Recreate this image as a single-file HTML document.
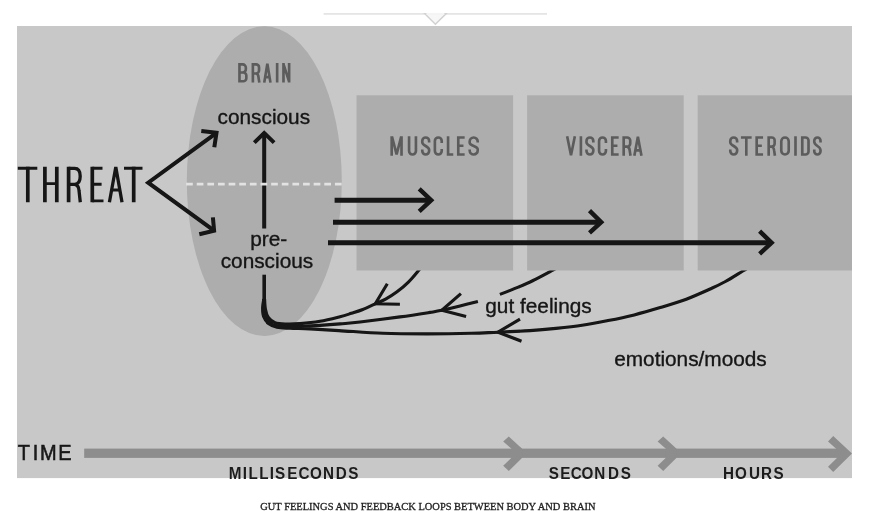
<!DOCTYPE html>
<html>
<head>
<meta charset="utf-8">
<title>Gut feelings and feedback loops between body and brain</title>
<style>
  html, body { margin: 0; padding: 0; background: #ffffff; }
  body { width: 883px; height: 526px; overflow: hidden; position: relative;
         font-family: "Liberation Sans", sans-serif; }
  svg { position: absolute; left: 0; top: 0; display: block; filter: grayscale(1); }
  text { font-family: "Liberation Sans", sans-serif; }
  .lbl  { fill: #141414; stroke: #141414; stroke-width: 0.35px; font-size: 20.8px; }
  .tl   { fill: #1c1c1c; font-weight: bold; font-size: 16.4px; }
  .cap  { font-family: "Liberation Serif", serif; fill: #1e1e1e; stroke: #1e1e1e; stroke-width: 0.3px; font-size: 10.4px; }
</style>
</head>
<body>
<svg width="883" height="526" viewBox="0 0 883 526">
  <!-- top divider with notch -->
  <rect x="323.6" y="13" width="223.4" height="1.8" fill="#e5e5e5"/>
  <path d="M424.6 13.6 L435.4 24.3 L446.2 13.6 Z" fill="#f7f7f7" stroke="#d2d2d2" stroke-width="1.4" stroke-linejoin="miter"/>
  <rect x="426.4" y="12.9" width="18" height="1.9" fill="#f5f5f5"/>

  <defs><filter id="soft" x="-2%" y="-2%" width="104%" height="104%"><feGaussianBlur stdDeviation="0.45"/></filter></defs>
  <g filter="url(#soft)">
  <!-- figure background -->
  <rect x="17" y="26" width="835" height="452.1" fill="#c8c8c8"/>

  <!-- brain ellipse + boxes -->
  <ellipse cx="264.3" cy="181.1" rx="77.5" ry="154.9" fill="#adadad"/>
  <!-- feedback curves (drawn beneath the boxes) -->
  <g fill="none" stroke="#141414" stroke-width="3.1" stroke-linecap="butt" stroke-linejoin="miter">
    <path d="M420.6 268.0 C420.2 268.5 420.1 268.6 418.1 271.0 C416.1 273.4 411.9 278.6 408.4 282.1 C404.9 285.6 400.8 289.0 397.0 291.8 C393.2 294.6 389.2 297.2 385.6 299.2 C382.0 301.2 379.1 302.1 375.3 303.8 C371.5 305.5 366.8 307.9 362.8 309.5 C358.8 311.1 355.2 312.1 351.4 313.3 C347.6 314.5 345.2 315.4 340.0 316.7 C334.8 318.0 326.7 320.1 320.0 321.3 C313.3 322.5 305.7 323.2 300.0 323.6 C294.3 324.1 290.2 324.2 286.0 324.0 C281.8 323.8 277.9 323.7 275.0 322.6 C272.1 321.5 269.9 319.8 268.3 317.5 C266.7 315.2 266.0 312.1 265.4 309.0 C264.8 305.9 264.7 300.7 264.6 299.0"/>
    <path d="M387.3 283.8 L375.3 303.8 L399.9 304.3"/>
    <path d="M556.6 268.0 C555.7 268.5 555.1 268.9 551.2 271.0 C547.3 273.1 538.6 277.8 533.1 280.5 C527.6 283.2 523.8 284.8 518.3 287.1 C512.8 289.4 503.0 293.2 499.9 294.4"/>
    <path d="M477.9 301.5 C474.9 302.2 466.0 304.5 460.0 306.0 C454.0 307.5 446.8 309.2 441.8 310.3 C436.8 311.4 437.0 311.3 430.0 312.4 C423.0 313.5 411.7 315.3 400.0 316.9 C388.3 318.5 370.0 320.8 360.0 322.0 C350.0 323.2 346.7 323.3 340.0 323.9 C333.3 324.5 326.7 325.0 320.0 325.4 C313.3 325.8 305.8 326.1 300.0 326.3 C294.2 326.5 289.5 326.6 285.0 326.3 C280.5 326.0 276.1 325.8 273.0 324.6 C269.9 323.4 267.8 321.6 266.3 319.0 C264.8 316.4 264.4 312.3 264.0 309.0 C263.6 305.7 264.2 300.7 264.2 299.0"/>
    <path d="M460.9 293.7 L441.8 310.3 L466.1 316.5"/>
    <path d="M747.6 268.0 C746.8 268.5 746.5 268.8 742.8 271.0 C739.1 273.2 730.5 278.7 725.4 281.5 C720.3 284.3 718.8 285.1 712.3 288.0 C705.8 290.9 695.0 295.9 686.3 299.2 C677.6 302.5 668.9 305.0 660.2 307.6 C651.5 310.2 642.9 312.7 634.2 314.9 C625.5 317.1 616.8 318.9 608.1 320.6 C599.4 322.3 590.8 324.0 582.1 325.3 C573.4 326.6 564.7 327.5 556.0 328.4 C547.3 329.3 539.7 330.0 530.0 330.6 C520.3 331.2 507.7 331.8 497.9 332.2 C488.1 332.6 483.2 333.0 471.4 333.3 C459.6 333.6 441.9 333.9 427.2 333.9 C412.5 333.9 397.7 333.9 383.0 333.3 C368.3 332.8 351.1 331.3 338.9 330.6 C326.7 329.9 318.1 329.3 310.0 328.9 C301.9 328.5 295.5 328.6 290.0 328.3 C284.5 328.0 280.6 328.0 277.0 327.2 C273.4 326.4 270.7 325.4 268.5 323.6 C266.3 321.8 264.6 319.1 263.6 316.5 C262.6 313.9 262.6 310.9 262.6 308.0 C262.6 305.1 263.6 300.5 263.8 299.0"/>
    <path d="M520 319.1 L497.9 332.2 L521.5 341.2"/>
  </g>
  <rect x="356.5" y="95.3" width="156.6" height="175.2" fill="#adadad"/>
  <rect x="527.1" y="95.3" width="156.6" height="175.2" fill="#adadad"/>
  <rect x="697.7" y="95.3" width="154.3" height="175.2" fill="#adadad"/>

  <!-- condensed labels -->
  <g fill="none" stroke="#5c5c5c" stroke-width="2.65" stroke-linejoin="miter" stroke-miterlimit="2" stroke-linecap="butt">
    <path d="M239.47 82.6V63.1M239.47 64.42H242.74A3.08 3.08 0 0 1 245.83 67.51V69.37A3.08 3.08 0 0 1 242.74 72.45H239.47M242.74 72.45A3.08 3.08 0 0 1 246.33 75.53V78.19A3.08 3.08 0 0 1 243.24 81.28H239.47M252.87 82.6V63.1M252.87 64.42H256.12A2.9 2.9 0 0 1 259.02 67.33V70.55A2.9 2.9 0 0 1 256.12 73.45H252.87M256.12 73.45Q258.42 74.05 258.52 77.35L259.32 82.6M264.24 82.6L267.35 63.6L270.46 82.6M265.11 77.14H269.59M277.15 63.1V82.6M283.48 82.6V63.1M289.12 82.6V63.1M283.48 64.1L289.12 81.6"/><!-- BRAIN -->
    <path d="M391.68 155.8V136.2M401.52 155.8V136.2M391.98 136.7L396.6 154.3L401.22 136.7M409.07 136.2V151.05A3.43 3.43 0 0 0 415.93 151.05V136.2M429.12 142.49V140.95A3.42 3.42 0 0 0 422.28 140.95V142.15C422.28 146 429.12 146 429.12 149.85V151.05A3.42 3.42 0 0 1 422.28 151.05V149.51M441.72 142.99V140.95A3.42 3.42 0 0 0 434.88 140.95V151.05A3.42 3.42 0 0 0 441.72 151.05V149.01M448.07 136.2V154.47H453.25M464.65 137.53H458.28V154.47H464.65M458.28 145.7H463.45M477.72 142.49V141.55A4.02 4.02 0 0 0 469.68 141.55V142.75C469.68 146 477.72 146 477.72 149.25V150.45A4.02 4.02 0 0 1 469.68 150.45V149.51"/><!-- MUSCLES -->
    <path d="M567.14 136.2L571 155.3L574.86 136.2M580.9 136.2V155.8M593.32 142.49V140.95A3.42 3.42 0 0 0 586.48 140.95V142.15C586.48 146 593.32 146 593.32 149.85V151.05A3.42 3.42 0 0 1 586.48 151.05V149.51M605.92 142.99V140.95A3.42 3.42 0 0 0 599.08 140.95V151.05A3.42 3.42 0 0 0 605.92 151.05V149.01M618.65 137.53H612.28V154.47H618.65M612.28 145.7H617.45M623.68 155.8V136.2M623.68 137.53H627.14A3.08 3.08 0 0 1 630.23 140.61V143.52A3.08 3.08 0 0 1 627.14 146.6H623.68M627.14 146.6Q629.62 147.2 629.73 150.68L630.52 155.8M634.34 155.8L637.9 136.7L641.46 155.8M635.34 150.31H640.46"/><!-- VISCERA -->
    <path d="M737.12 142.49V140.95A3.42 3.42 0 0 0 730.28 140.95V142.15C730.28 146 737.12 146 737.12 149.85V151.05A3.42 3.42 0 0 1 730.28 151.05V149.51M740.95 137.53H751.65M746.3 137.53V155.8M763.05 137.53H756.68V154.47H763.05M756.68 145.7H761.85M768.68 155.8V136.2M768.68 137.53H771.81A2.81 2.81 0 0 1 774.62 140.34V143.79A2.81 2.81 0 0 1 771.81 146.6H768.68M771.81 146.6Q774.02 147.2 774.12 150.41L774.92 155.8M781.28 141.25A3.72 3.72 0 0 1 788.72 141.25V150.75A3.72 3.72 0 0 1 781.28 150.75ZM795.5 136.2V155.8M802.28 155.8V136.2M802.28 137.53H805.56A2.97 2.97 0 0 1 808.52 140.49V151.51A2.97 2.97 0 0 1 805.56 154.47H802.28M820.52 142.49V140.65A3.12 3.12 0 0 0 814.28 140.65V141.85C814.28 146 820.52 146 820.52 150.15V151.35A3.12 3.12 0 0 1 814.28 151.35V149.51"/><!-- STEROIDS -->
  </g>

  <!-- THREAT drawn as strokes -->
  <g fill="none" stroke="#161616" stroke-linecap="butt" stroke-linejoin="miter">
    <g stroke-width="3.7">
      <path d="M27.8 166.8 V202.3 M44.9 166.8 V202.3 M56.8 166.8 V202.3 M68.6 166.8 V202.3 M92.3 166.8 V202.3 M133.7 166.8 V202.3"/>
    </g>
    <g stroke-width="2.9">
      <path d="M17.8 168.25 H37.3 M44.9 183.6 H56.8 M92.3 168.25 H102.5 M92.3 184.3 H101.6 M92.3 200.85 H103.5 M124 168.25 H142.5 M111.4 190 H120"/>
    </g>
    <g stroke-width="3.3">
      <path d="M68.6 168.3 H74.6 Q80.2 168.3 80.2 176.3 Q80.2 184.3 74.6 184.3 H68.6 M74.6 184.3 Q78.8 185 79 190.5 L80.3 202.3"/>
      <path d="M109.4 202.3 L115.8 167 L122 202.3" stroke-linejoin="bevel"/>
    </g>
  </g>

  <!-- THREAT arrows -->
  <g fill="none" stroke="#141414" stroke-width="4" stroke-linejoin="miter" stroke-linecap="butt">
    <path d="M216.5 132.8 L148.2 182.7 L214.1 230.6"/>
    <path d="M201.3 131.1 L216.5 132.8 L214.3 147.2"/>
    <path d="M212.9 217.4 L214.1 230.6 L199.3 234.2"/>
  </g>

  <!-- vertical arrow in brain -->
  <g fill="none" stroke="#141414" stroke-width="4">
    <path d="M264.2 134 V228.5"/>
    <path d="M254.3 142.6 L264.2 133 L274.1 142.6" stroke-linejoin="miter"/>
    <path d="M264.2 274.7 V300.5" stroke-width="3.6"/>
  </g>

  <!-- dashed divider in brain -->
  <line x1="186.1" y1="184.2" x2="342" y2="184.2" stroke="#e2e2e2" stroke-width="2.8" stroke-dasharray="6.7 3.93"/>

  <!-- horizontal arrows -->
  <g fill="none" stroke="#141414" stroke-width="4.9" stroke-linejoin="miter">
    <path d="M334.6 200.2 H431"/>
    <path d="M419.2 188.9 L431.2 200.2 L419.2 211.4" stroke-width="4.4"/>
    <path d="M333 222.2 H601"/>
    <path d="M589.5 210.6 L601.2 222.2 L589.5 232.8" stroke-width="4.4"/>
    <path d="M328 242.8 H771.5"/>
    <path d="M759.6 231.2 L771.6 242.8 L759.6 253.9" stroke-width="4.4"/>
  </g>

  <!-- text labels -->
  <text class="lbl" x="217.6" y="124">conscious</text>
  <text class="lbl" x="250.2" y="245.6">pre-</text>
  <text class="lbl" x="220.7" y="268.4">conscious</text>
  <text class="lbl" x="485.3" y="313">gut feelings</text>
  <text class="lbl" x="614.2" y="366">emotions/moods</text>

  <!-- timeline -->
  <text transform="scale(0.90 1)" y="459.9" x="19.6 36.4 44.5 64.8" fill="#1a1a1a" stroke="#1a1a1a" stroke-width="0.6" font-size="22.2">TIME</text>
  <g fill="#8d8d8d">
    <rect x="84.2" y="448.6" width="760" height="9.3"/>
    <path d="M508.8 436.4 L522.2 448.8 V457.7 L508.8 471 L503.2 465.8 L511.5 457.7 V448.8 L503.2 441.6 Z"/>
    <path d="M663.2 436.4 L676.6 448.8 V457.7 L663.2 471 L657.6 465.8 L665.9 457.7 V448.8 L657.6 441.6 Z"/>
    <path d="M833.2 436 L852 453.6 L833.2 472.1 L828 466.8 L841.5 453.6 L828 441.6 Z"/>
  </g>
  <text class="tl" transform="scale(0.93 1)" y="479.4" x="246.0 260.9 267.3 278.7 290.0 295.7 309.0 321.0 333.3 347.4 361.1 374.5">MILLISECONDS</text>
  <text class="tl" transform="scale(0.93 1)" y="479.4" x="590.0 602.5 613.6 625.3 639.1 653.9 667.6">SECONDS</text>
  <text class="tl" transform="scale(0.93 1)" y="479.4" x="777.5 790.4 805.4 818.4 831.7">HOURS</text>

  </g>

  <!-- caption -->
  <text class="cap" x="260.3" y="509.5" textLength="335.2" lengthAdjust="spacingAndGlyphs">GUT FEELINGS AND FEEDBACK LOOPS BETWEEN BODY AND BRAIN</text>
</svg>
</body>
</html>
